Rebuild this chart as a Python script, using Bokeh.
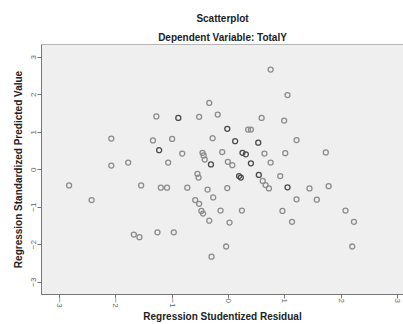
from bokeh.plotting import figure
from bokeh.models import Range1d, Title, Span, ColumnDataSource, FixedTicker
from bokeh.embed import file_html
from bokeh.resources import INLINE

# Studentized residual (x) and standardized predicted value (y); count = overlapping cases
resid = [-0.34, -1.28, -0.89, -0.52, -0.19, -2.08, -1.34, -1.00, -0.28, -1.23,
         -0.82, -0.46, -0.44, -0.42, -0.31, -0.11, -2.08, -1.78, -1.07, 0.75,
         1.05, 0.59, 0.99, -0.02, 0.35, 0.40, 1.21, 0.12, 0.53, 0.25,
         0.31, 0.64, 1.01, 1.73, -0.01, 0.07, 0.40, 0.75, -2.83, -2.43,
         -1.55, -1.20, -1.09, -0.73, -0.55, -0.53, -0.37, -0.27, -0.59, -0.52,
         -0.48, -0.45, -0.34, -0.14, -1.68, -1.58, -1.26, -0.97, -0.30, 0.19,
         0.22, 0.54, 0.61, 0.66, 0.72, 0.92, 1.05, 1.44, 1.78, -0.02,
         1.21, 1.57, 0.24, 0.96, 2.08, 0.02, 1.13, 2.23, -0.04, 2.20]
pred = [1.78, 1.42, 1.38, 1.41, 1.47, 0.83, 0.78, 0.82, 0.84, 0.52,
        0.43, 0.45, 0.38, 0.27, 0.14, 0.47, 0.11, 0.19, 0.19, 2.67,
        1.99, 1.38, 1.31, 1.09, 1.07, 1.07, 0.79, 0.76, 0.72, 0.45,
        0.41, 0.43, 0.44, 0.46, 0.21, 0.12, 0.17, 0.19, -0.42, -0.81,
        -0.42, -0.48, -0.48, -0.48, -0.11, -0.21, -0.53, -0.74, -0.81, -0.91,
        -1.10, -1.17, -1.36, -1.09, -1.73, -1.80, -1.67, -1.67, -2.32, -0.17,
        -0.21, -0.14, -0.30, -0.41, -0.50, -0.17, -0.47, -0.50, -0.44, -0.49,
        -0.79, -0.80, -1.09, -1.10, -1.09, -1.41, -1.39, -1.39, -2.05, -2.05]
count = [1, 1, 2, 1, 1, 1, 1, 1, 1, 2,
         1, 1, 1, 1, 2, 1, 1, 1, 1, 1,
         1, 1, 1, 2, 1, 1, 1, 2, 2, 2,
         2, 1, 1, 1, 1, 1, 2, 1, 1, 1,
         1, 1, 1, 1, 1, 1, 1, 1, 1, 1,
         1, 1, 1, 1, 1, 1, 1, 1, 1, 2,
         2, 2, 1, 1, 1, 1, 2, 1, 1, 1,
         1, 1, 1, 1, 1, 1, 1, 1, 1, 1]
ticks = [-3, -2, -1, 0, 1, 2, 3]

FONT = "Liberation Sans"
colors = ["#4a4a4a" if c > 1 else "#8c8c8c" for c in count]
src = ColumnDataSource(dict(x=resid, y=pred, c=colors))

p = figure(width=403, height=324, output_backend="svg", toolbar_location=None,
           x_range=Range1d(-3.32, 3.11), y_range=Range1d(-3.33, 3.34),
           min_border_left=41, min_border_right=0, min_border_top=44, min_border_bottom=0,
           title="Scatterplot")
p.background_fill_color = "#efefef"
p.border_fill_color = "white"
p.outline_line_color = None
p.grid.visible = False

p.title.text_font = FONT
p.title.text_font_size = "10px"
p.title.text_font_style = "bold"
p.title.text_color = "#222222"
p.title.align = "center"
p.title.offset = -9
p.title.standoff = 10

t2 = Title(text="Dependent Variable: TotalY", align="center", offset=-9, text_font=FONT,
           text_font_size="10px", text_font_style="bold", text_color="#222222", standoff=3)
p.add_layout(t2, "above")

for ax in (p.xaxis[0], p.yaxis[0]):
    ax.ticker = FixedTicker(ticks=ticks)
    ax.minor_tick_line_color = None
    ax.major_tick_in = 0
    ax.major_tick_out = 4
    ax.axis_line_color = "#777777"
    ax.major_tick_line_color = "#777777"
    ax.major_label_text_font = FONT
    ax.major_label_text_font_size = "8px"
    ax.major_label_text_color = "#666666"
    ax.major_label_orientation = "vertical"
    ax.major_label_standoff = 1
    ax.axis_label_text_font = FONT
    ax.axis_label_text_font_size = "10px"
    ax.axis_label_text_font_style = "bold"
    ax.axis_label_text_color = "#222222"

p.xaxis.major_label_standoff = 0
p.yaxis.axis_label = "Regression Standardized Predicted Value"
p.yaxis.axis_label_standoff = 5
p.xaxis.axis_label = "Regression Studentized Residual"
p.xaxis.axis_label_standoff = 0

p.add_layout(Span(location=3.34, dimension="width", line_color="#777777", line_width=1))

p.scatter("x", "y", source=src, marker="circle", size=5, fill_color=None,
          line_color="c", line_width=1.3)

open("out.html", "w").write(file_html(p, INLINE))
